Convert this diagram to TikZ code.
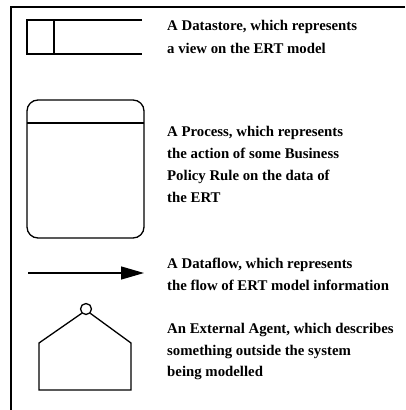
\documentclass[tikz,border=0pt]{standalone}
\usepackage{fontspec}
\setmainfont{Liberation Serif}
\usetikzlibrary{arrows.meta}
\begin{document}
\begin{tikzpicture}[x=1pt,y=-1pt,
  shape line/.style={draw=black,line width=1.3pt},
  legend text/.style={anchor=base west,inner sep=0pt,font=\bfseries\fontsize{14.8}{23}\selectfont}]
\useasboundingbox (0,0) rectangle (405,410);
\fill[white] (0,0) rectangle (405,410);
% frame
\coordinate (ftl) at (11,7);
\coordinate (ftr) at (405,7);
\coordinate (fbl) at (11,410);
\draw[line width=1.2pt] (ftr) -- (ftl) -- (fbl);
% datastore
\draw[shape line] (142,20) -- (27,20) -- (27,54) -- (142,54);
\draw[shape line] (54,20) -- (54,54);
\node[legend text] (t1) at (167,30.5) {A Datastore, which represents};
\node[legend text] (t2) at (167,53.5) {a view on the ERT model};
% process
\draw[shape line,rounded corners=11pt] (27,100) rectangle (144,238);
\draw[shape line] (27,123) -- (144,123);
\node[legend text] (t3) at (167,136) {A Process, which represents};
\node[legend text] (t4) at (167,158) {the action of some Business};
\node[legend text] (t5) at (167,180) {Policy Rule on the data of};
\node[legend text] (t6) at (167,202) {the ERT};
% dataflow
\coordinate (fa) at (28,273);
\coordinate (fb) at (144,273);
\draw[shape line,-{Triangle[length=23pt,width=13pt]}] (fa) -- (fb);
\node[legend text] (t7) at (167,268) {A Dataflow, which represents};
\node[legend text] (t8) at (167,290) {the flow of ERT model information};
% external agent
\node[draw,circle,line width=1.3pt,minimum size=11pt,inner sep=0pt] (head) at (86,309) {};
\draw[shape line] (head.south west) -- (39,343) -- (39,390) -- (131,390) -- (131,343) -- (head.south east);
\node[legend text] (t9) at (167,333) {An External Agent, which describes};
\node[legend text] (t10) at (167,355) {something outside the system};
\node[legend text] (t11) at (167,376) {being modelled};
\end{tikzpicture}
\end{document}
